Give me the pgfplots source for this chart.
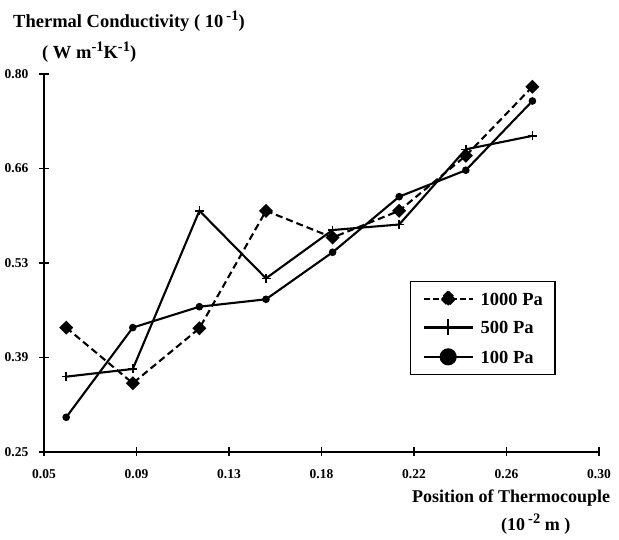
\documentclass[border=0pt]{standalone}
\usepackage{fontspec}
\setmainfont{Liberation Serif}
\usepackage{pgfplots}
\pgfplotsset{compat=1.18}
\newcommand{\supr}[1]{\raisebox{0.42em}{\fontsize{14.5}{15}\selectfont #1}}
\begin{document}
\begin{tikzpicture}[x=1pt,y=1pt]
\path[use as bounding box] (0,0) rectangle (619,540);
\begin{axis}[
  at={(44pt,88pt)}, anchor=south west,
  scale only axis, width=555pt, height=378pt,
  xmin=0.05, xmax=0.30, ymin=0.25, ymax=0.80,
  axis x line*=bottom, axis y line*=left,
  axis line style={line width=1.7pt},
  tick align=center, major tick length=9pt,
  tick style={line width=1.5pt, black},
  xtick={0.05,0.0916667,0.1333333,0.175,0.2166667,0.2583333,0.30},
  xticklabels={0.05,0.09,0.13,0.18,0.22,0.26,0.30},
  ytick={0.25,0.3875,0.525,0.6625,0.80},
  yticklabels={0.25,0.39,0.53,0.66,0.80},
  /pgf/number format/assume math mode=true,
  ticklabel style={font=\fontsize{13.5}{14}\selectfont\bfseries},
  yticklabel style={inner sep=0pt, anchor=east, xshift=-11pt},
  xticklabel style={inner sep=0pt, anchor=north, yshift=-13pt},
  clip=false,
  legend style={at={(0.6595,0.4524)}, anchor=north west,
    draw=black, line width=1.2pt,
    font=\fontsize{18.5}{20}\selectfont\bfseries,
    inner xsep=12pt, inner ysep=9pt, row sep=12pt, column sep=7pt,
    nodes={inner sep=0pt, text height=13pt, text depth=0pt},
    cells={anchor=west}},
]
\addplot[black, line width=2.1pt, dash pattern=on 7pt off 4pt,
  mark=square*, mark size=3.9pt, mark options={solid, fill=black, rotate=45},
  legend image code/.code={
    \draw[black, line width=2.1pt, dash pattern=on 6pt off 3pt] (0pt,0pt) -- (49pt,0pt);
    \fill[black] (24.5pt,7pt) -- (31.5pt,0pt) -- (24.5pt,-7pt) -- (17.5pt,0pt) -- cycle;
  }]
  coordinates {(0.06,0.431) (0.09,0.350) (0.12,0.430) (0.15,0.601)
               (0.18,0.562) (0.21,0.601) (0.24,0.681) (0.27,0.7815)};
\addlegendentry{1000 Pa}
\addplot[black, line width=2.1pt, mark=+, mark size=4.5pt,
  mark options={solid, line width=1.5pt},
  legend image code/.code={
    \draw[black, line width=2.1pt] (0pt,0pt) -- (49pt,0pt);
    \draw[black, line width=1.6pt] (24.5pt,-8pt) -- (24.5pt,8pt);
  }]
  coordinates {(0.06,0.3596) (0.09,0.3708) (0.12,0.601) (0.15,0.5027)
               (0.18,0.573) (0.21,0.581) (0.24,0.6904) (0.27,0.710)};
\addlegendentry{500 Pa}
\addplot[black, line width=2.1pt, mark=*, mark size=2.7pt,
  mark options={solid, fill=black},
  legend image code/.code={
    \draw[black, line width=2.1pt] (0pt,0pt) -- (49pt,0pt);
    \fill[black] (24.5pt,0pt) circle[radius=7.5pt];
  }]
  coordinates {(0.06,0.3005) (0.09,0.431) (0.12,0.4614) (0.15,0.4722)
               (0.18,0.5406) (0.21,0.6215) (0.24,0.660) (0.27,0.7607)};
\addlegendentry{100 Pa}
\end{axis}
\node[anchor=base west, inner sep=0pt, font=\fontsize{18.5}{20}\selectfont\bfseries]
  at (13,512) {Thermal Conductivity ( 10\,\supr{-1})};
\node[anchor=base west, inner sep=0pt, font=\fontsize{18.5}{20}\selectfont\bfseries]
  at (42,481) {( W m\supr{-1}K\supr{-1})};
\node[anchor=base west, inner sep=0pt, font=\fontsize{18}{20}\selectfont\bfseries]
  at (412,37) {Position of Thermocouple};
\node[anchor=base west, inner sep=0pt, font=\fontsize{18}{20}\selectfont\bfseries]
  at (501,9) {(10\,\supr{-2} m )};
\end{tikzpicture}
\end{document}
